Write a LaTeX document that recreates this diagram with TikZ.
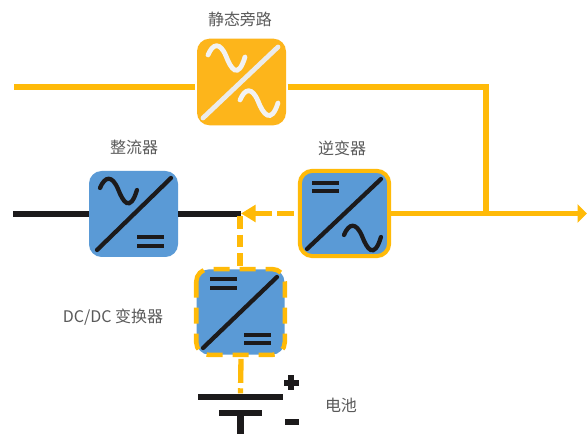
\documentclass[tikz,border=0pt]{standalone}
\usepackage{fontspec}
\setmainfont{Noto Sans CJK SC}
\usetikzlibrary{arrows.meta}
\definecolor{lineor}{HTML}{FFBA08}
\definecolor{boxor}{HTML}{FDB51B}
\definecolor{boxbl}{HTML}{5A9AD6}
\definecolor{ink}{HTML}{1C1A1B}
\definecolor{labc}{HTML}{5A5A5A}
\tikzset{
  x=0.75pt,y=-0.75pt,
  conv/.style={rectangle,rounded corners=9.5pt,inner sep=0pt,minimum width=#1},
  conv/.default=66.75pt,
  labl/.style={text=labc,font=\fontsize{12}{14}\selectfont,inner sep=0pt},
  oline/.style={draw=lineor,line width=4.2pt},
  kline/.style={draw=ink,line width=5pt},
  odash/.style={draw=lineor,line width=4pt,dash pattern=on 9.5pt off 4.5pt},
  glyph/.style={draw=ink,line width=3.2pt,line cap=round},
  wglyph/.style={draw=#1,line width=3.6pt,line cap=round},
  bar/.style={draw=ink,line width=3.4pt},
  plate/.style={rectangle,fill=ink,inner sep=0pt,minimum height=5pt},
}
\begin{document}
\begin{tikzpicture}
\path[use as bounding box,fill=white] (0,0) rectangle (587,434);
% named free ends
\coordinate (topin) at (14,87);
\coordinate (rin) at (13,214);
\coordinate (joint) at (241,214);
\coordinate (tee) at (486,213.5);
\coordinate (out) at (587,213.5);
% boxes
\node[conv,fill=boxor,minimum height=65pt] (bypass) at (241.5,82) {};
\node[conv,fill=boxbl,minimum height=64.5pt] (rect) at (133.5,214) {};
\node[conv=67pt,fill=boxbl,draw=lineor,line width=3pt,minimum height=64pt] (inv) at (344.5,213.5) {};
\node[conv=66pt,fill=boxbl,minimum height=64pt] (dcdc) at (240.5,312) {};
\draw[odash,line width=3.4pt,rounded corners=9.5pt,dash pattern=on 12pt off 7.5pt] (dcdc.north west) rectangle (dcdc.south east);
\node[plate,minimum width=63.75pt] (plate1) at (240.5,397) {};
\node[plate,minimum width=32.25pt] (plate2) at (240.5,413) {};
\coordinate (stemend) at (240.5,434);
% connectors
\draw[oline,shorten >=1.5pt] (topin) -- (topin -| bypass.west);
\draw[oline,shorten <=1pt] (topin -| bypass.east) -- (topin -| tee) -- (tee);
\draw[oline,-{Triangle[length=7pt,width=13.5pt]}] (inv.east) -- (out);
\draw[kline] (rin) -- (rect.west);
\draw[kline] (rect.east) -- (joint);
\draw[odash,shorten <=3pt,dash pattern=on 12.75pt off 4pt,-{Triangle[length=11pt,width=12.5pt]}] (inv.west) -- (inv.west -| joint);
\draw[odash] (240,216) -- (240,268);
\draw[odash,dash pattern=on 18pt off 4pt on 11pt off 3pt] (dcdc.south) ++(0.5,4) -- (plate1.north);
\draw[kline] (plate2.center) -- (stemend);
% bypass icon
\draw[wglyph=white!92!black] (203,118) -- (278,47);
\draw[wglyph=white!95!black] (208,55) .. controls (213,43) and (220,42) .. (226,56) .. controls (231,69) and (238,80) .. (245,57);
\draw[wglyph=white!95!black] (240,100) .. controls (245,88) and (252,87) .. (258,101) .. controls (263,114) and (271,125) .. (278,103);
% rectifier icon
\draw[glyph] (97,250) -- (171,178);
\draw[glyph] (100,188) .. controls (105,176) and (112,175) .. (118,189) .. controls (123,202) and (130,213) .. (137,190);
\draw[bar] (137,237) -- (164,237) (137,246) -- (164,246);
% inverter icon
\draw[glyph] (307,249) -- (381,179);
\draw[glyph] (344,235) .. controls (349,223) and (356,222) .. (362,236) .. controls (367,249) and (374,260) .. (381,237);
\draw[bar] (312,183) -- (339,183) (312,191) -- (339,191);
% dc/dc icon
\draw[glyph] (203,348) -- (277,277);
\draw[bar] (210,279) -- (237,279) (210,288) -- (237,288);
\draw[bar] (244,335) -- (271,335) (244,343) -- (271,343);
% battery polarity
\fill[ink] (288,375.5) rectangle (294,390.5);
\fill[ink] (283.5,380) rectangle (298.5,386);
\fill[ink] (285,419) rectangle (299,425);
% labels
\node[labl] (lbypass) at (240,19) {静态旁路};
\node[labl] (lrect) at (134,147) {整流器};
\node[labl] (linv) at (342,148) {逆变器};
\node[labl] (ldcdc) at (113,317) {DC/DC 变换器};
\node[labl] (lbat) at (341,405) {电池};
\end{tikzpicture}
\end{document}
